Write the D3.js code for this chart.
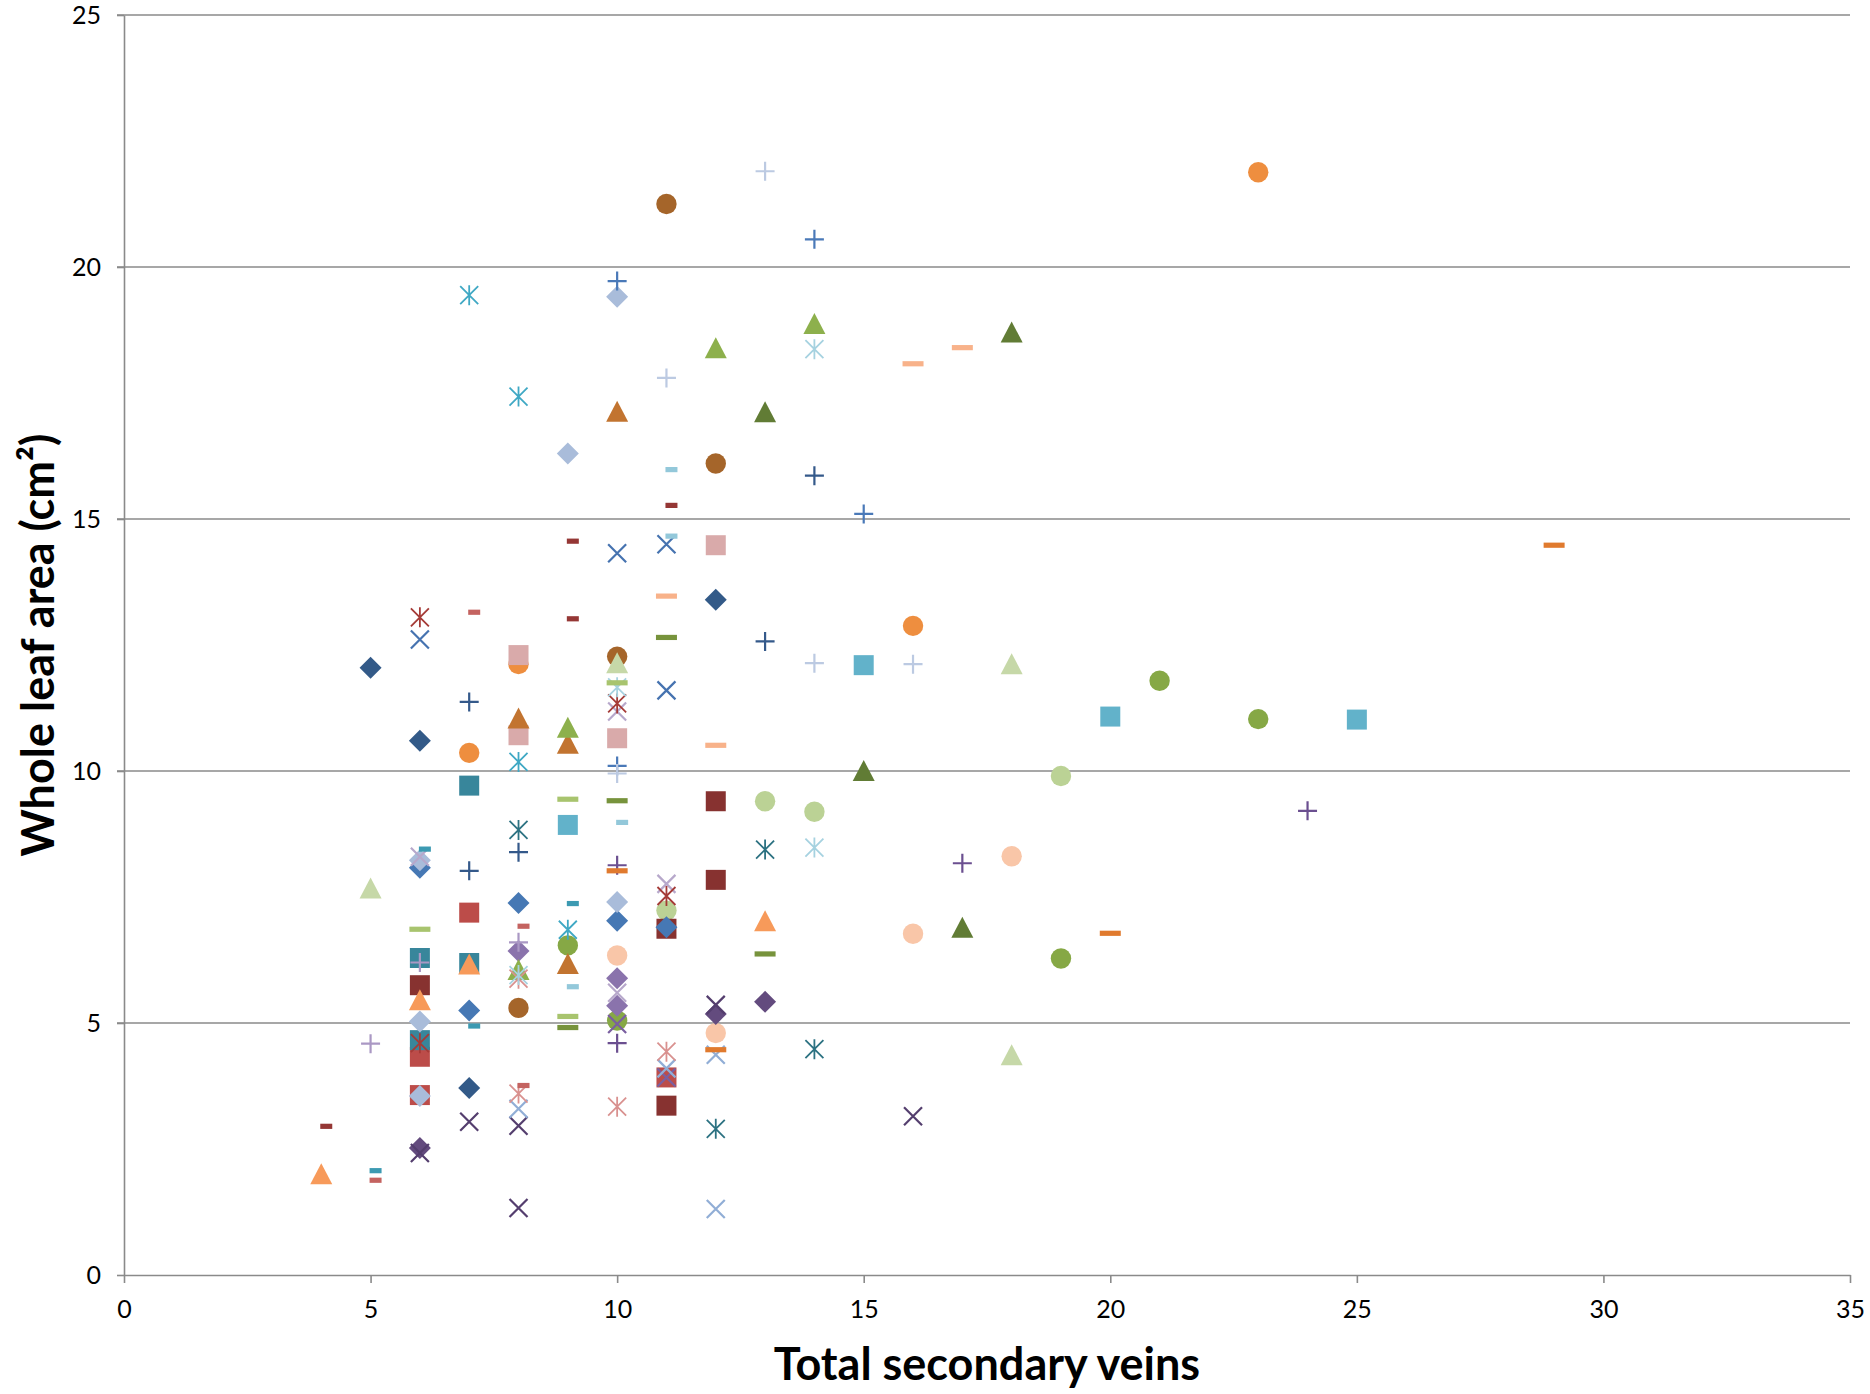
<!DOCTYPE html>
<html>
<head>
<meta charset="utf-8">
<script src="https://cdn.jsdelivr.net/npm/d3@7"></script>
<style>
  body { margin: 0; background: #fff; }
  text { font-family: Lato, "Open Sans", sans-serif; }
</style>
</head>
<body>
<svg id="chart" width="1870" height="1394"></svg>
<script>
// axis ticks
var xTicks = [0, 5, 10, 15, 20, 25, 30, 35];
var yTicks = [0, 5, 10, 15, 20, 25];

// data: [total secondary veins, whole leaf area]
var circleBrown = [[11,21.25],[12,16.1],[10,12.27],[8,5.3]];
var circleOrange = [[23,21.88],[16,12.88],[7,10.36],[8,12.12]];
var circleGreen = [[21,11.79],[23,11.03],[19,6.28],[9,6.54],[10,5.05]];
var circleLightGreen = [[13,9.4],[14,9.19],[19,9.9],[11,7.23]];
var circleLightOrange = [[18,8.31],[16,6.77],[10,6.34],[12,4.8]];

var squareDarkRed = [[6,5.75],[11,3.36],[11,6.87],[12,9.4],[12,7.84]];
var squareRed = [[6,4.33],[6,3.57],[7,7.19],[11,3.92]];
var squareTeal = [[6,6.29],[6,4.66],[7,9.71],[7,6.19]];
var squareAqua = [[9,8.93],[15,12.1],[20,11.08],[25,11.02]];
var squarePink = [[8,12.3],[8,10.71],[10,10.65],[12,14.48]];

var diamondDarkBlue = [[5,12.05],[6,10.6],[7,3.71],[12,13.4]];
var diamondBlue = [[6,8.08],[7,5.25],[8,7.38],[10,7.03],[11,6.9]];
var diamondLightBlue = [[10,19.41],[9,16.3],[6,5.03],[6,3.55],[10,7.4],[6,8.23]];
var diamondPurple = [[8,6.43],[10,5.89],[10,5.34]];
var diamondDarkPurple = [[6,2.52],[12,5.18],[13,5.42]];

var triOrange = [[4,2.0],[6,5.45],[7,6.16],[13,7.02]];
var triDarkOrange = [[10,17.13],[8,11.04],[9,10.54],[9,6.17]];
var triGreen = [[12,18.39],[14,18.87],[9,10.86],[8,6.05]];
var triDarkGreen = [[13,17.12],[18,18.7],[15,10.0],[17,6.89]];
var triLightGreen = [[5,7.67],[10,12.14],[18,12.12],[18,4.36]];

var xBlue = [[6,12.61],[10,14.32],[11,14.5],[11,11.6]];
var xDarkPurple = [[7,3.04],[8,2.96],[8,1.33],[6,2.42],[16,3.15],[12,5.36]];
var xPurple = [[10,4.98],[11,3.92]];
var xLightPurple = [[6,8.3],[11,7.76],[10,11.18],[10,5.6]];
var xLightBlue = [[8,3.3],[12,1.31],[12,4.37],[11,4.1]];

var starAqua = [[7,19.44],[8,17.43],[8,10.18],[9,6.85]];
var starDarkTeal = [[8,8.83],[13,8.44],[14,4.48],[12,2.9]];
var starDarkRed = [[6,13.05],[10,11.34],[11,7.52],[6,4.6]];
var starLightRed = [[8,3.6],[10,3.34],[11,4.43],[8,5.88]];
var starLightAqua = [[14,18.37],[14,8.48],[10,11.66],[8,5.95]];

var plusDarkBlue = [[14,15.86],[13,12.57],[7,11.37],[7,8.02],[8,8.39]];
var plusBlue = [[14,20.55],[10,19.72],[15,15.1],[10,10.1]];
var plusLightBlue = [[13,21.9],[11,17.8],[14,12.14],[16,12.12],[10,9.95]];
var plusPurple = [[24,9.21],[17,8.17],[10,4.6],[10,8.13]];
var plusLightPurple = [[5,4.59],[8,6.6],[6,6.2]];

var shortDashDarkRed = [[4,2.95],[9,14.56],[9,13.02],[11,15.27]];
var shortDashRed = [[7,13.15],[5,1.88],[8,6.92],[8,3.76]];
var shortDashAqua = [[5,2.07],[6,8.45],[7,4.94],[9,7.37]];
var shortDashLightAqua = [[11,15.98],[11,14.66],[10,8.98],[9,5.72]];

var dashLightGreen = [[6,6.86],[9,9.44],[9,5.13],[10,11.75]];
var dashDarkGreen = [[11,12.65],[10,9.41],[13,6.37],[9,4.91]];
var dashLightOrange = [[16,18.08],[17,18.4],[11,13.47],[12,10.51]];
var dashOrange = [[29,14.48],[20,6.78],[10,8.02],[12,4.47]];

// series table, in drawing order
var series = [
  {data: circleBrown, shape: 'circle', color: '#A5652A'},
  {data: circleOrange, shape: 'circle', color: '#EE8E3F'},
  {data: circleGreen, shape: 'circle', color: '#86A845'},
  {data: circleLightGreen, shape: 'circle', color: '#BBD295'},
  {data: circleLightOrange, shape: 'circle', color: '#F9C6A8'},
  {data: squareDarkRed, shape: 'square', color: '#873230'},
  {data: squareRed, shape: 'square', color: '#BC4C49'},
  {data: squareTeal, shape: 'square', color: '#38869B'},
  {data: squareAqua, shape: 'square', color: '#62B2CA'},
  {data: squarePink, shape: 'square', color: '#D9AAAA'},
  {data: diamondDarkBlue, shape: 'diamond', color: '#335A88'},
  {data: diamondBlue, shape: 'diamond', color: '#4678B4'},
  {data: diamondLightBlue, shape: 'diamond', color: '#A9BCDA'},
  {data: diamondPurple, shape: 'diamond', color: '#8A73AC'},
  {data: diamondDarkPurple, shape: 'diamond', color: '#634B7E'},
  {data: triOrange, shape: 'triangle', color: '#F79A5A'},
  {data: triDarkOrange, shape: 'triangle', color: '#C27430'},
  {data: triGreen, shape: 'triangle', color: '#8DB04C'},
  {data: triDarkGreen, shape: 'triangle', color: '#617C35'},
  {data: triLightGreen, shape: 'triangle', color: '#C6D8A8'},
  {data: xBlue, shape: 'x', color: '#4673B0'},
  {data: xDarkPurple, shape: 'x', color: '#543E6E'},
  {data: xPurple, shape: 'x', color: '#7A5FA0'},
  {data: xLightPurple, shape: 'x', color: '#B7A8CB'},
  {data: xLightBlue, shape: 'x', color: '#91AED6'},
  {data: starAqua, shape: 'star', color: '#3FA8C4'},
  {data: starDarkTeal, shape: 'star', color: '#2C7282'},
  {data: starDarkRed, shape: 'star', color: '#A53B37'},
  {data: starLightRed, shape: 'star', color: '#D9918F'},
  {data: starLightAqua, shape: 'star', color: '#A6D2E0'},
  {data: plusDarkBlue, shape: 'plus', color: '#34598A'},
  {data: plusBlue, shape: 'plus', color: '#4A79B8'},
  {data: plusLightBlue, shape: 'plus', color: '#BCCAE2'},
  {data: plusPurple, shape: 'plus', color: '#6B4F90'},
  {data: plusLightPurple, shape: 'plus', color: '#AA98C4'},
  {data: shortDashDarkRed, shape: 'shortdash', color: '#953735'},
  {data: shortDashRed, shape: 'shortdash', color: '#C46360'},
  {data: shortDashAqua, shape: 'shortdash', color: '#3C9AB2'},
  {data: shortDashLightAqua, shape: 'shortdash', color: '#93C8DA'},
  {data: dashLightGreen, shape: 'dash', color: '#A8C46E'},
  {data: dashDarkGreen, shape: 'dash', color: '#77933C'},
  {data: dashLightOrange, shape: 'dash', color: '#F8B28A'},
  {data: dashOrange, shape: 'dash', color: '#E07A2E'}
];

var svg = d3.select('#chart');
var plotLeft = 124, plotRight = 1850, plotTop = 15, plotBottom = 1275;

var xScale = d3.scaleLinear().domain([0, 35]).range([plotLeft, plotRight]);
var yScale = d3.scaleLinear().domain([0, 25]).range([plotBottom, plotTop]);

// gridlines
svg.append('g')
  .selectAll('line')
  .data(yTicks.filter(function(d) { return d > 0; }))
  .enter()
  .append('line')
  .attr('x1', plotLeft - 7)
  .attr('x2', plotRight)
  .attr('y1', function(d) { return yScale(d); })
  .attr('y2', function(d) { return yScale(d); })
  .attr('stroke', '#8a8a8a')
  .attr('stroke-width', 1.6);

// axes
var yAxis = svg.append('g')
  .attr('transform', 'translate(' + plotLeft + ',0)')
  .call(d3.axisLeft(yScale).tickValues(yTicks).tickSize(7).tickSizeOuter(0).tickPadding(16));
var xAxis = svg.append('g')
  .attr('transform', 'translate(0,' + plotBottom + ')')
  .call(d3.axisBottom(xScale).tickValues(xTicks).tickSize(8).tickSizeOuter(0));

[xAxis, yAxis].forEach(function(ax) {
  ax.select('.domain').attr('stroke', '#8a8a8a').attr('stroke-width', 1.6);
  ax.selectAll('.tick line').attr('stroke', '#8a8a8a').attr('stroke-width', 1.6);
  ax.selectAll('.tick text')
    .attr('fill', '#000')
    .style('font-size', '25px')
    .style('font-family', 'Lato, "Open Sans", sans-serif');
});
xAxis.selectAll('.tick text').attr('y', 34).attr('dy', '0.35em');

// markers
function markerPath(shape) {
  switch (shape) {
    case 'square': return 'M-10,-10H10V10H-10Z';
    case 'diamond': return 'M0,-11L11,0L0,11L-11,0Z';
    case 'triangle': return 'M0,-11L11,10L-11,10Z';
    case 'x': return 'M-9,-9L9,9M-9,9L9,-9';
    case 'star': return 'M-9,-9L9,9M-9,9L9,-9M0,-10V10';
    case 'plus': return 'M-9.5,0H9.5M0,-9.5V9.5';
    case 'shortdash': return 'M-1,-2.6H11V2.6H-1Z';
    case 'dash': return 'M-10.5,-2.6H10.5V2.6H-10.5Z';
  }
}

series.forEach(function(s) {
  var g = svg.append('g');
  var stroked = (s.shape === 'x' || s.shape === 'star' || s.shape === 'plus');
  if (s.shape === 'circle') {
    g.selectAll('circle')
      .data(s.data)
      .enter()
      .append('circle')
      .attr('cx', function(d) { return xScale(d[0]); })
      .attr('cy', function(d) { return yScale(d[1]); })
      .attr('r', 10.2)
      .attr('fill', s.color);
  } else {
    g.selectAll('path')
      .data(s.data)
      .enter()
      .append('path')
      .attr('transform', function(d) { return 'translate(' + xScale(d[0]) + ',' + yScale(d[1]) + ')'; })
      .attr('d', markerPath(s.shape))
      .attr('fill', stroked ? 'none' : s.color)
      .attr('stroke', stroked ? s.color : 'none')
      .attr('stroke-width', s.shape === 'star' ? 1.8 : 2.2);
  }
});

// axis titles
svg.append('text')
  .attr('x', (plotLeft + plotRight) / 2)
  .attr('y', 1380)
  .attr('text-anchor', 'middle')
  .style('font-size', '45px')
  .style('font-weight', 'bold')
  .text('Total secondary veins');

svg.append('text')
  .attr('transform', 'translate(54,645) rotate(-90)')
  .attr('text-anchor', 'middle')
  .style('font-size', '45px')
  .style('font-weight', 'bold')
  .text('Whole leaf area (cm²)');
</script>
</body>
</html>
